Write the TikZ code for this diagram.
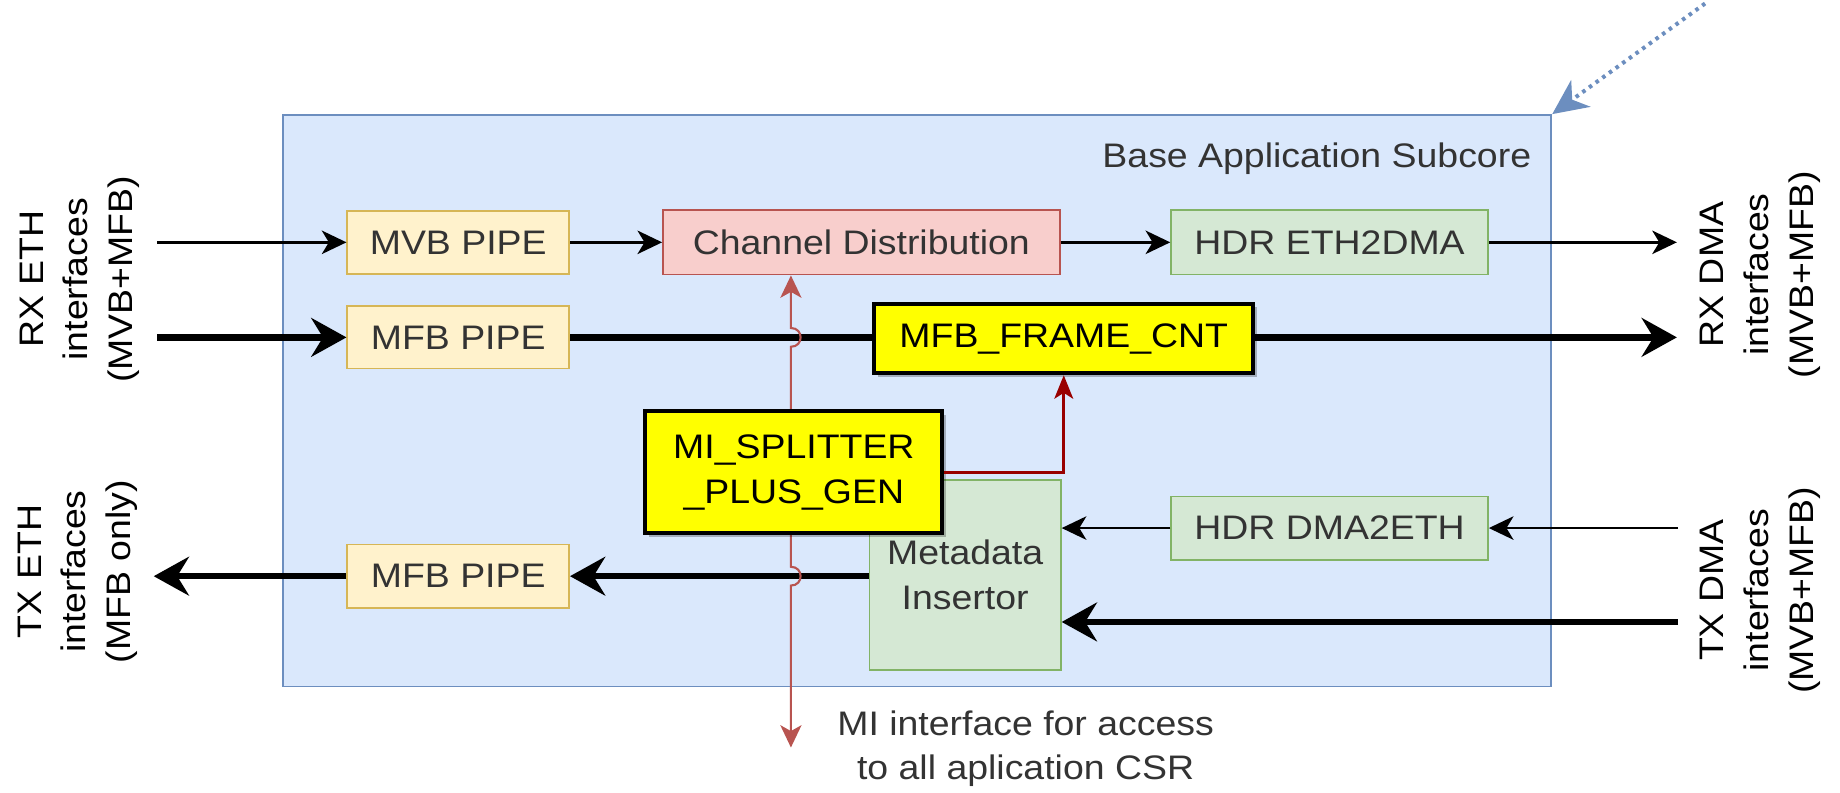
\documentclass[tikz,border=0pt]{standalone}
\usepackage{fontspec}
\setmainfont{Liberation Sans}[FakeStretch=1.1]
\usetikzlibrary{arrows.meta,shadows}
\definecolor{mainfill}{HTML}{DAE8FC}
\definecolor{mainline}{HTML}{6C8EBF}
\definecolor{yelfill}{HTML}{FFF2CC}
\definecolor{yelline}{HTML}{D6B656}
\definecolor{redfill}{HTML}{F8CECC}
\definecolor{redline}{HTML}{B85450}
\definecolor{grnfill}{HTML}{D5E8D4}
\definecolor{grnline}{HTML}{82B366}
\definecolor{txtgray}{HTML}{333333}
\definecolor{darkred}{HTML}{990000}
\definecolor{hot}{HTML}{FFFF00}
\begin{document}
\begin{tikzpicture}[x=1pt,y=-1pt,
  every node/.style={font=\fontsize{29}{38}\selectfont, inner sep=0pt},
  pastel/.style={draw, line width=1.5pt, text=txtgray, align=center},
  pipebox/.style={pastel, fill=yelfill, draw=yelline},
  redbox/.style={pastel, fill=redfill, draw=redline},
  grnbox/.style={pastel, fill=grnfill, draw=grnline},
  hotbox/.style={draw=black, line width=3.5pt, fill=hot, text=black, align=center,
    drop shadow={shadow xshift=3pt, shadow yshift=-3pt, opacity=0.25, fill=black}},
  rotlabel/.style={rotate=90, align=center, text=black},
  thinarr/.style={draw=black, line width=2.2pt, -{Stealth[length=21pt,width=20pt,inset=6pt]}},
  thickarr/.style={draw=black, line width=5.5pt, -{Stealth[length=30pt,width=33pt,inset=10pt]}},
  miarr/.style={draw=redline, line width=1.8pt, {Stealth[length=19pt,width=18pt,inset=5pt]}-{Stealth[length=19pt,width=18pt,inset=5pt]}},
  ctrlarr/.style={draw=darkred, line width=2.5pt, -{Stealth[length=20pt,width=16pt,inset=5pt]}},
  bluearr/.style={draw=mainline, line width=3.4pt, dash pattern=on 3pt off 4pt, -{Stealth[length=30pt,width=28pt,inset=9pt]}}
]
\useasboundingbox (0,0) rectangle (1568,675);

% main subcore box
\node[draw=mainline, fill=mainfill, line width=1.5pt, minimum width=1081pt, minimum height=487pt] (main) at (781.5,341.5) {};
\node[anchor=east, text=txtgray] (title) at (1305,135) {Base Application Subcore};

% blocks
\node[pipebox, minimum width=189pt, minimum height=54pt] (mvb) at (390.5,206.5) {MVB PIPE};
\node[pipebox, minimum width=189pt, minimum height=53pt] (mfbrx) at (390.5,287.5) {MFB PIPE};
\node[redbox, minimum width=338pt, minimum height=55pt] (chd) at (734,206.5) {Channel Distribution};
\node[grnbox, minimum width=270pt, minimum height=55pt] (eth2dma) at (1133,206.5) {HDR ETH2DMA};
\node[grnbox, minimum width=270pt, minimum height=54pt] (dma2eth) at (1133,450) {HDR DMA2ETH};
\node[grnbox, minimum width=163pt, minimum height=162pt] (mdi) at (822.5,490) {Metadata\\Insertor};
\node[pipebox, minimum width=189pt, minimum height=54pt] (mfbtx) at (390.5,491) {MFB PIPE};

% free ends
\coordinate (rxin1) at (134,206.5);
\coordinate (rxin2) at (134,287.5);
\coordinate (rxout1) at (1429,206.5);
\coordinate (rxout2) at (1429,287.5);
\coordinate (txin1) at (1430,450);
\coordinate (txin2) at (1430,530);
\coordinate (txout) at (131,491);
\coordinate (mibot) at (674,637);
\coordinate (bluestart) at (1453,3);

% black connectors
\draw[thinarr] (rxin1) -- (mvb.west);
\draw[thinarr] (mvb.east) -- (chd.west);
\draw[thinarr] (chd.east) -- (eth2dma.west);
\draw[thinarr] (eth2dma.east) -- (rxout1);
\draw[thickarr] (rxin2) -- (mfbrx.west);
\draw[thickarr] (mfbrx.east) -- (rxout2);
\draw[thinarr] (txin1) -- (dma2eth.east);
\draw[thinarr] (dma2eth.west) -- (mdi.east |- dma2eth.west);
\draw[thickarr] (txin2) -- (mdi.east |- txin2);
\draw[thickarr] (mdi.west |- mfbtx.east) -- (mfbtx.east);
\draw[thickarr] (mfbtx.west) -- (txout);

% MI bus with line jumps
\draw[miarr] (chd.south -| mibot) -- (674,279.5)
  .. controls (685,279.5) and (685,295.5) .. (674,295.5) -- (674,483)
  .. controls (685,483) and (685,499) .. (674,499) -- (mibot);

% highlighted blocks
\node[hotbox, minimum width=323pt, minimum height=59pt] (frame) at (906.5,288.5) {MFB\_FRAME\_CNT};
\node[hotbox, minimum width=253pt, minimum height=104pt] (split) at (676.5,402.5) {MI\_SPLITTER\\\_PLUS\_GEN};
\draw[ctrlarr] (split.east) -| (frame.south);

% outer labels
\node[rotlabel] (rxeth) at (68,238) {RX ETH\\interfaces\\(MVB+MFB)};
\node[rotlabel] (txeth) at (66,487) {TX ETH\\interfaces\\(MFB only)};
\node[rotlabel] (rxdma) at (1500,234) {RX DMA\\interfaces\\(MVB+MFB)};
\node[rotlabel] (txdma) at (1500,503) {TX DMA\\interfaces\\(MVB+MFB)};
\node[align=center, text=txtgray] (mitext) at (874,638) {MI interface for access\\to all aplication CSR};

% pointer arrow
\draw[bluearr] (bluestart) -- (main.north east);
\end{tikzpicture}
\end{document}
